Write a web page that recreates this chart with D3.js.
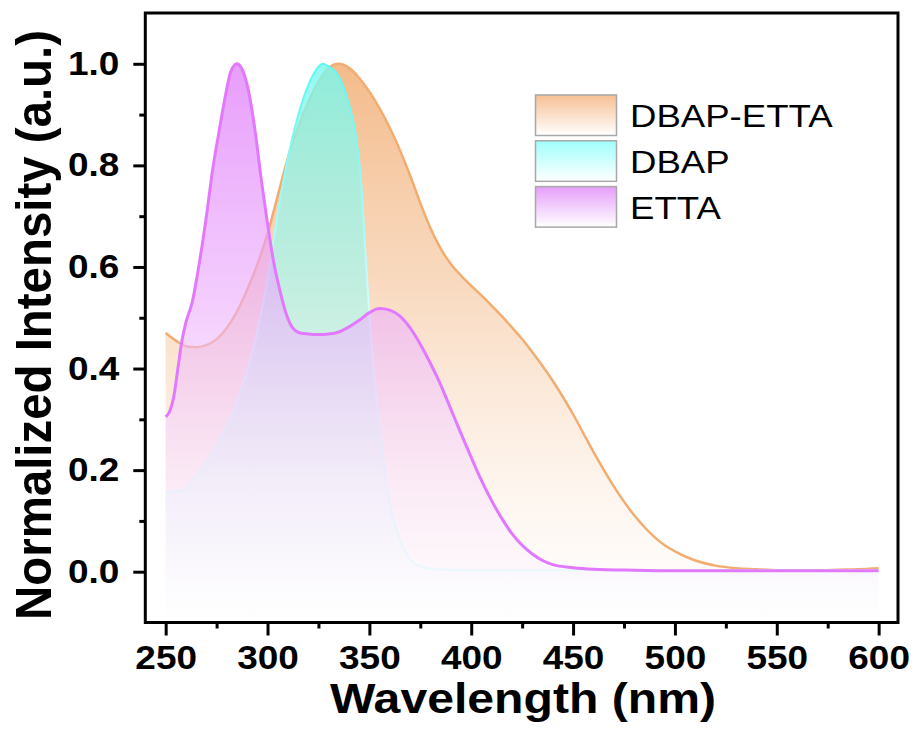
<!DOCTYPE html>
<html>
<head>
<meta charset="utf-8">
<script src="https://cdn.jsdelivr.net/npm/d3@7"></script>
<style>
  html, body { margin: 0; padding: 0; background: #fff; }
  svg { display: block; font-family: Arial, "Liberation Sans", sans-serif; }
</style>
</head>
<body>
<svg id="chart" width="917" height="742"></svg>
<script>
// ---------------- data ----------------
const seriesNames = ["DBAP-ETTA", "DBAP", "ETTA"];

const dbapEttaNm  = [250,255,260,265,270,275,280,285,290,295,300,305,310,315,320,325,330,335,340,345,350,355,360,365,370,375,380,385,390,395,400,405,410,415,420,425,430,435,440,445,450,455,460,465,470,475,480,485,490,495,500,510,520,530,540,550,560,570,580,590,600];
const dbapEttaVal = [0.470,0.455,0.444,0.442,0.446,0.458,0.480,0.512,0.555,0.605,0.665,0.740,0.815,0.875,0.925,0.965,0.992,1.000,0.992,0.972,0.945,0.912,0.874,0.830,0.780,0.726,0.676,0.636,0.606,0.583,0.563,0.544,0.524,0.503,0.481,0.458,0.432,0.405,0.376,0.344,0.310,0.273,0.236,0.201,0.168,0.138,0.111,0.088,0.068,0.052,0.040,0.022,0.012,0.007,0.005,0.003,0.003,0.003,0.004,0.005,0.007];

const dbapNm  = [250,253,256,258,260,265,270,275,280,285,290,295,300,305,310,315,320,325,327,330,335,340,343,346,348,350,352,355,358,361,365,370,375,380,390,400,450,500,550,600];
const dbapVal = [0.155,0.159,0.160,0.159,0.164,0.188,0.216,0.249,0.288,0.335,0.395,0.474,0.575,0.705,0.815,0.898,0.958,0.994,1.000,0.995,0.975,0.920,0.868,0.765,0.630,0.505,0.400,0.290,0.185,0.115,0.062,0.024,0.011,0.006,0.004,0.003,0.003,0.003,0.003,0.003];

const ettaNm  = [250,252,254,256,258,260,263,266,270,273,276,279,282,285,288,291,294,297,300,303,306,309,312,316,320,325,330,335,340,345,350,355,360,365,370,375,380,385,390,395,400,405,410,415,420,425,430,435,440,450,460,480,500,550,600];
const ettaVal = [0.305,0.316,0.345,0.400,0.455,0.492,0.530,0.595,0.700,0.790,0.862,0.930,0.985,1.000,0.985,0.940,0.865,0.770,0.685,0.610,0.555,0.510,0.482,0.470,0.468,0.467,0.468,0.472,0.482,0.495,0.510,0.518,0.515,0.503,0.480,0.448,0.410,0.368,0.320,0.272,0.225,0.180,0.140,0.105,0.075,0.052,0.035,0.022,0.014,0.008,0.005,0.003,0.002,0.002,0.002];

const xMajorTicks = [250,300,350,400,450,500,550,600];
const xMinorTicks = [275,325,375,425,475,525,575];
const yMajorTicks = [0.0,0.2,0.4,0.6,0.8,1.0];
const yMinorTicks = [0.1,0.3,0.5,0.7,0.9];

const xTitle = "Wavelength (nm)";
const yTitle = "Normalized Intensity (a.u.)";

// ---------------- styles ----------------
const styles = [
  { id: "gOrange",  lineTop: "rgb(243,172,112)", lineBot: "rgb(243,172,112)", top: "rgb(241,170,110)", topOp: 0.80, lw: 2.5, lgTop: "rgb(247,192,148)" },
  { id: "gCyan",    lineTop: "rgb(90,248,240)",  lineBot: "rgb(215,253,253)", top: "rgb(118,248,238)", topOp: 0.80, lw: 2.0, lgTop: "rgb(160,255,252)" },
  { id: "gMagenta", lineTop: "rgb(226,120,255)", lineBot: "rgb(226,120,255)", top: "rgb(226,132,250)", topOp: 0.80, lw: 3,   lgTop: "rgb(230,158,250)" }
];
const series = [
  { nm: dbapEttaNm, val: dbapEttaVal },
  { nm: dbapNm,     val: dbapVal },
  { nm: ettaNm,     val: ettaVal }
];

// ---------------- layout ----------------
const svg = d3.select("#chart");
const X0 = 145.3, X1 = 899, Y0 = 622.5, Y1 = 13;
const x = d3.scaleLinear().domain([240, 610]).range([X0, X1]);
const y = d3.scaleLinear().domain([-0.1, 1.1]).range([Y0, Y1]);
const SX = 1.12; // horizontal glyph stretch of the reference

const defs = svg.append("defs");
styles.forEach(s => {
  const g = defs.append("linearGradient").attr("id", s.id)
    .attr("x1", 0).attr("y1", 0).attr("x2", 0).attr("y2", 1);
  const toWhite = d3.interpolateRgb(s.top, "#ffffff");
  // [offset, whiteness, opacity]
  [[0, 0, 0.80], [0.4, 0.3, 0.62], [0.75, 0.75, 0.5], [1, 1, 0.45]].forEach(([o, w, op]) =>
    g.append("stop").attr("offset", o).attr("stop-color", toWhite(w)).attr("stop-opacity", op));
  const sg = defs.append("linearGradient").attr("id", s.id + "S")
    .attr("gradientUnits", "userSpaceOnUse")
    .attr("x1", 0).attr("y1", y(1)).attr("x2", 0).attr("y2", y(0));
  sg.append("stop").attr("offset", 0).attr("stop-color", s.lineTop);
  sg.append("stop").attr("offset", 0.5).attr("stop-color", s.lineBot);
  sg.append("stop").attr("offset", 1).attr("stop-color", s.lineBot);
  const lg = defs.append("linearGradient").attr("id", s.id + "L")
    .attr("x1", 0).attr("y1", 0).attr("x2", 0).attr("y2", 1);
  lg.append("stop").attr("offset", "0%").attr("stop-color", s.lgTop);
  lg.append("stop").attr("offset", "100%").attr("stop-color", "#fff");
});
defs.append("clipPath").attr("id", "plotClip")
  .append("rect").attr("x", X0).attr("y", Y1).attr("width", X1 - X0).attr("height", Y0 - Y1);

const plot = svg.append("g").attr("clip-path", "url(#plotClip)");
series.forEach((s, i) => {
  const pts = s.nm.map((n, j) => [n, s.val[j]]);
  const area = d3.area().x(d => x(d[0])).y0(y(-0.1)).y1(d => y(d[1])).curve(d3.curveMonotoneX);
  const line = d3.line().x(d => x(d[0])).y(d => y(d[1])).curve(d3.curveMonotoneX);
  plot.append("path").datum(pts).attr("d", area).attr("fill", `url(#${styles[i].id})`);
  plot.append("path").datum(pts).attr("d", line).attr("fill", "none")
    .attr("stroke", `url(#${styles[i].id}S)`).attr("stroke-width", styles[i].lw).attr("stroke-linejoin", "round");
});

// ---------------- axes ----------------
const fmt = d3.format(".1f");
const xAxis = svg.append("g").attr("transform", `translate(0,${Y0})`)
  .call(d3.axisBottom(x).tickValues(xMajorTicks).tickSize(13).tickPadding(10).tickFormat(d3.format("d")));
const xMinor = svg.append("g").attr("transform", `translate(0,${Y0})`)
  .call(d3.axisBottom(x).tickValues(xMinorTicks).tickSize(6).tickFormat(""));
const yAxis = svg.append("g").attr("transform", `translate(${X0},0)`)
  .call(d3.axisLeft(y).tickValues(yMajorTicks).tickSize(12).tickPadding(14).tickFormat(fmt));
const yMinor = svg.append("g").attr("transform", `translate(${X0},0)`)
  .call(d3.axisLeft(y).tickValues(yMinorTicks).tickSize(6).tickFormat(""));

[xAxis, xMinor, yAxis, yMinor].forEach(a => {
  a.select(".domain").remove();
  a.selectAll(".tick line").attr("stroke", "#000").attr("stroke-width", 3);
});
xAxis.selectAll(".tick text")
  .attr("font-size", 33).attr("font-weight", "bold").attr("fill", "#000")
  .attr("font-family", "Arial, 'Liberation Sans', sans-serif")
  .attr("transform", `scale(${SX},1)`);
yAxis.selectAll(".tick text")
  .attr("font-size", 33).attr("font-weight", "bold").attr("fill", "#000")
  .attr("font-family", "Arial, 'Liberation Sans', sans-serif")
  .attr("x", 0).attr("transform", `translate(-26,0) scale(${SX},1)`);

// frame
svg.append("rect").attr("x", X0).attr("y", Y1).attr("width", X1 - X0 - 1).attr("height", Y0 - Y1)
  .attr("fill", "none").attr("stroke", "#000").attr("stroke-width", 3);

// titles
svg.append("text").attr("transform", `translate(523,713) scale(${SX},1)`)
  .attr("text-anchor", "middle").attr("font-size", 43).attr("font-weight", "bold").text(xTitle);
svg.append("text").attr("transform", `translate(51,325) rotate(-90) scale(1,${SX})`)
  .attr("text-anchor", "middle").attr("font-size", 45).attr("font-weight", "bold")
  .attr("textLength", 590).attr("lengthAdjust", "spacingAndGlyphs").text(yTitle);

// legend
const legend = svg.append("g");
seriesNames.forEach((name, i) => {
  const top = 95 + i * 45.8;
  legend.append("rect").attr("x", 535.5).attr("y", top).attr("width", 81).attr("height", 40.5)
    .attr("fill", `url(#${styles[i].id}L)`).attr("stroke", "#a8a8a8").attr("stroke-width", 1.5);
  legend.append("text").attr("transform", `translate(630,${top + 32}) scale(1.2,1)`)
    .attr("font-size", 30.5).attr("fill", "#000").text(name);
});
</script>
</body>
</html>
